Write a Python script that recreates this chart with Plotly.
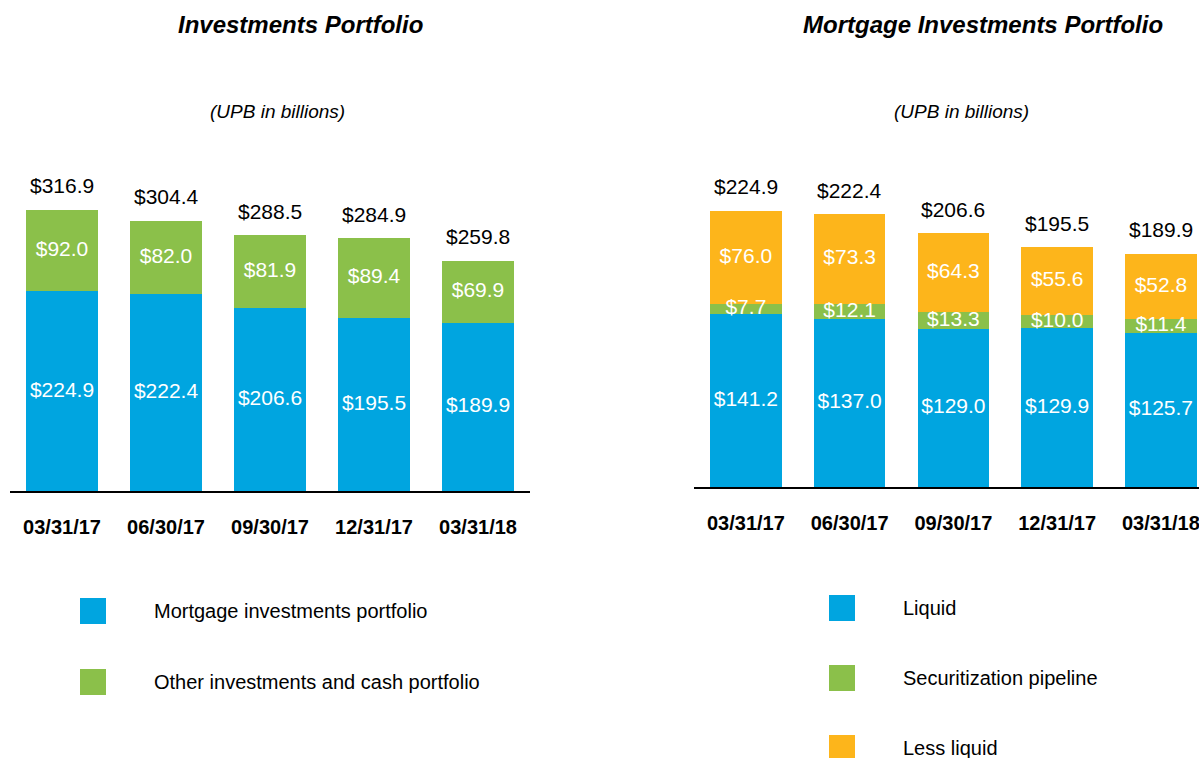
import plotly.graph_objects as go

W, H = 1199, 758

# ---------------- data ----------------
dates = ["03/31/17", "06/30/17", "09/30/17", "12/31/17", "03/31/18"]

left_names = ["Mortgage investments portfolio", "Other investments and cash portfolio"]
mortgage_portfolio = [224.9, 222.4, 206.6, 195.5, 189.9]
other_investments = [92.0, 82.0, 81.9, 89.4, 69.9]

right_names = ["Liquid", "Securitization pipeline", "Less liquid"]
liquid = [141.2, 137.0, 129.0, 129.9, 125.7]
securitization = [7.7, 12.1, 13.3, 10.0, 11.4]
less_liquid = [76.0, 73.3, 64.3, 55.6, 52.8]

left_title = "Investments Portfolio"
right_title = "Mortgage Investments Portfolio"
subtitle = "(UPB in billions)"

# ---------------- style ----------------
BLUE = "#00A5E0"
GREEN = "#8BC04A"
ORANGE = "#FDB51B"
FONT = "Liberation Sans, Arial, sans-serif"

def px_x(p):  # page pixel -> paper fraction
    return p / W

def px_y(p):
    return 1 - p / H

fig = go.Figure()

def add_stack(series, colors, xa, ya):
    base = [0.0] * len(dates)
    for vals, col in zip(series, colors):
        fig.add_trace(go.Bar(x=dates, y=vals, marker=dict(color=col, line=dict(width=0)),
                             xaxis=xa, yaxis=ya, width=0.69, showlegend=False,
                             hoverinfo="skip"))
        mids = [b + v / 2 for b, v in zip(base, vals)]
        fig.add_trace(go.Scatter(x=dates, y=mids, mode="text",
                                 text=[f"${v:.1f}" for v in vals],
                                 textposition="middle center",
                                 textfont=dict(family=FONT, size=21, color="white"),
                                 xaxis=xa, yaxis=ya, showlegend=False, hoverinfo="skip",
                                 cliponaxis=False))
        base = [b + v for b, v in zip(base, vals)]
    # totals
    for d, t in zip(dates, base):
        fig.add_annotation(x=d, y=t, xref=xa, yref=ya,
                           text=f"${t:.1f}", showarrow=False, yanchor="middle",
                           xanchor="center", yshift=24,
                           font=dict(family=FONT, size=21, color="black"))

add_stack([mortgage_portfolio, other_investments], [BLUE, GREEN], "x", "y")
add_stack([liquid, securitization, less_liquid], [BLUE, GREEN, ORANGE], "x2", "y2")

axis_common = dict(showgrid=False, zeroline=False, showline=True, linecolor="black",
                   linewidth=2, ticks="", ticklabelstandoff=17, automargin=False,
                   tickangle=0,
                   tickfont=dict(family=FONT, size=20, color="black", weight="bold"),
                   categoryorder="array", categoryarray=dates)

fig.update_layout(
    width=W, height=H,
    margin=dict(l=0, r=0, t=0, b=0, autoexpand=False),
    paper_bgcolor="white", plot_bgcolor="white",
    barmode="stack", showlegend=False,
    xaxis=dict(domain=[px_x(10), px_x(530)], range=[-0.5, 4.5], anchor="y", **axis_common),
    yaxis=dict(domain=[px_y(491), px_y(150)], range=[0, 384.4], visible=False, anchor="x"),
    xaxis2=dict(domain=[px_x(694), 1.0], range=[-0.5, 4.367], anchor="y2", **axis_common),
    yaxis2=dict(domain=[px_y(487), px_y(150)], range=[0, 274.6], visible=False, anchor="x2"),
)

# titles
for cx, cy, txt, size in [(300, 24, f"<b><i>{left_title}</i></b>", 24),
                          (983, 24, f"<b><i>{right_title}</i></b>", 24),
                          (277, 112, f"<i>{subtitle}</i>", 19),
                          (961, 112, f"<i>{subtitle}</i>", 19)]:
    fig.add_annotation(x=px_x(cx), y=px_y(cy), xref="paper", yref="paper", showarrow=False,
                       xanchor="center", yanchor="middle", text=txt,
                       font=dict(family=FONT, size=size, color="black"))

# legends
def legend(names, colors, sq_x0, sq_y0s, text_x):
    for n, c, y0 in zip(names, colors, sq_y0s):
        fig.add_shape(type="rect", xref="paper", yref="paper",
                      x0=px_x(sq_x0), x1=px_x(sq_x0 + 26), y0=px_y(y0 + 26), y1=px_y(y0),
                      fillcolor=c, line=dict(width=0))
        fig.add_annotation(x=px_x(text_x), y=px_y(y0 + 13), xref="paper", yref="paper",
                           showarrow=False, xanchor="left", yanchor="middle", text=n,
                           font=dict(family=FONT, size=20, color="black"))

legend(left_names, [BLUE, GREEN], 80, [598, 669], 152)
legend(right_names, [BLUE, GREEN, ORANGE], 829, [595, 665, 735], 901)

fig.write_html("out.html",
               config={"displayModeBar": False, "staticPlot": True},
               post_script="document.body.style.margin='0';document.body.style.overflow='hidden';")
